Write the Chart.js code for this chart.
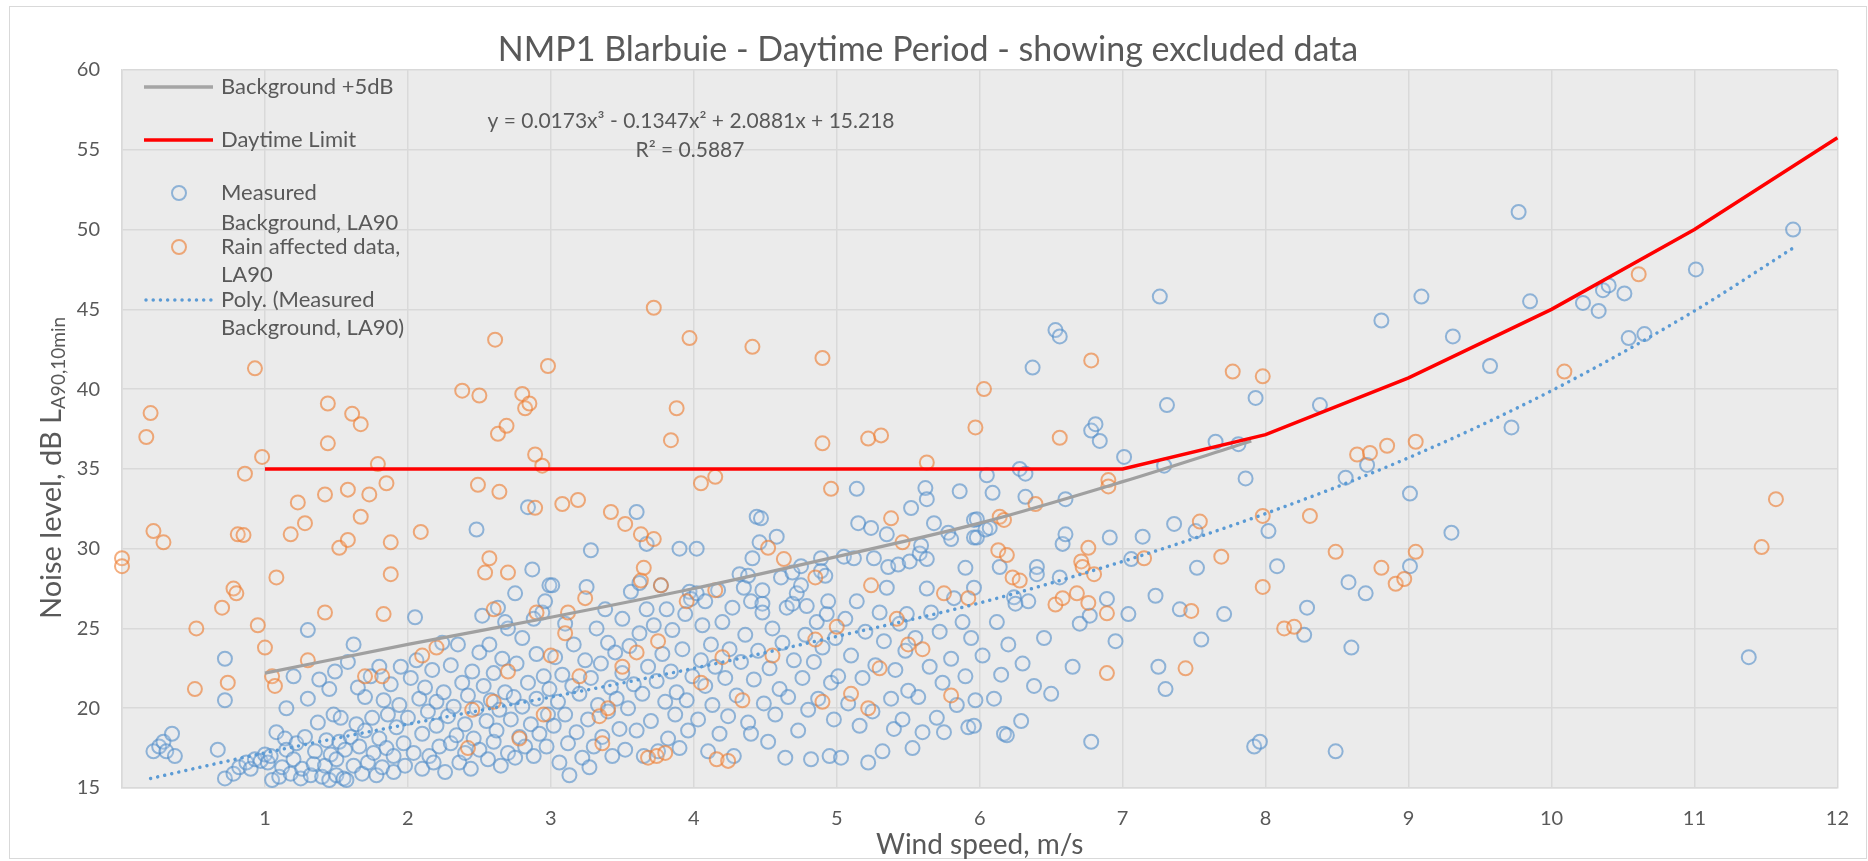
<!DOCTYPE html>
<html>
<head>
<meta charset="utf-8">
<script src="https://cdn.jsdelivr.net/npm/chart.js@4/dist/chart.umd.min.js"></script>
<style>
html,body{margin:0;padding:0;background:#fff}
#wrap{width:1868px;height:861px}
</style>
</head>
<body>
<div id="wrap"><canvas id="chart" width="1868" height="861"></canvas></div>
<script>
// Measured background, LA90 (wind speed m/s, dB)
const measured=[
[0.22,17.3],[0.26,17.6],[0.29,17.9],[0.31,17.3],[0.35,18.4],[0.37,17.0],[0.67,17.4],[0.72,15.6],[0.78,15.9],[0.82,16.3],[0.72,23.1],[0.72,20.5],[0.87,16.6],[0.9,16.2],[0.93,16.8],[0.97,16.7],
[1.0,17.1],[1.02,16.6],[1.04,17.0],[1.05,15.5],[1.08,18.5],[1.1,15.7],[1.12,16.3],[1.14,18.1],[1.15,20.0],[1.15,17.4],[1.18,15.9],[1.2,16.8],[1.22,17.8],[1.25,15.6],[1.26,16.2],[1.28,18.2],[1.3,20.6],[1.3,24.9],[1.32,15.8],[1.34,16.5],[1.35,17.3],[1.37,19.1],[1.4,15.7],[1.42,16.4],[1.43,18.0],[1.45,15.5],[1.46,17.1],[1.48,19.6],[1.49,22.3],[1.5,15.8],[1.5,16.8],[1.52,17.9],[1.53,19.4],[1.55,15.6],[1.56,17.4],[1.57,15.5],[1.45,21.2],[1.38,21.8],[1.2,22.0],
[1.6,18.2],[1.62,16.4],[1.64,19.0],[1.66,17.6],[1.68,15.9],[1.7,20.7],[1.7,18.6],[1.72,16.6],[1.74,22.0],[1.75,19.4],[1.76,17.2],[1.78,15.8],[1.8,18.1],[1.82,16.3],[1.83,20.5],[1.85,17.5],[1.86,19.6],[1.88,21.5],[1.9,17.0],[1.9,16.0],[1.92,18.8],[1.94,20.2],[1.95,22.6],[1.97,17.8],[1.98,16.4],[1.62,24.0],[1.58,22.9],[1.8,22.6],[1.65,21.3],
[2.0,19.4],[2.02,21.9],[2.04,17.2],[2.05,25.7],[2.06,23.0],[2.08,20.6],[2.1,16.2],[2.1,18.4],[2.12,21.3],[2.14,19.8],[2.15,17.0],[2.17,22.4],[2.18,16.6],[2.2,20.4],[2.2,18.9],[2.22,17.6],[2.24,24.1],[2.25,21.0],[2.26,16.0],[2.28,19.5],[2.3,22.7],[2.3,17.8],[2.32,20.1],[2.34,18.3],[2.35,24.0],[2.36,16.6],[2.38,21.6],[2.4,19.0],[2.4,17.2],[2.42,20.8],[2.44,16.2],[2.45,22.3],[2.46,18.1],[2.48,31.2],[2.48,20.0],[2.5,17.4],[2.5,23.5],
[2.52,25.8],[2.53,21.4],[2.55,19.2],[2.56,16.8],[2.57,24.0],[2.58,20.5],[2.6,17.9],[2.6,22.2],[2.62,18.6],[2.63,26.3],[2.64,19.9],[2.65,16.4],[2.66,23.1],[2.68,21.0],[2.7,17.2],[2.7,25.0],[2.72,19.3],[2.74,20.7],[2.75,16.9],[2.76,22.8],[2.78,18.2],[2.8,24.4],[2.8,20.1],[2.82,17.6],[2.84,32.6],[2.84,21.6],[2.86,19.0],[2.87,28.7],[2.88,17.0],[2.9,23.4],[2.9,20.6],[2.92,18.4],[2.94,26.0],[2.95,22.0],[2.96,26.7],[2.97,17.6],[2.98,19.6],[2.99,27.7],[2.99,21.2],[2.88,25.6],[2.75,27.2],[2.68,25.4],
[3.01,27.7],[3.02,18.9],[3.03,23.2],[3.05,20.4],[3.06,16.6],[3.08,22.1],[3.1,25.3],[3.1,19.6],[3.12,17.8],[3.13,15.8],[3.15,21.4],[3.16,24.0],[3.18,18.5],[3.2,20.9],[3.22,16.9],[3.24,23.0],[3.25,27.6],[3.26,19.3],[3.27,16.3],[3.28,29.9],[3.28,21.9],[3.3,17.6],[3.32,25.0],[3.33,20.2],[3.35,22.8],[3.36,18.2],[3.38,26.2],[3.4,19.8],[3.4,24.1],[3.42,21.3],[3.43,17.0],[3.45,23.5],[3.46,20.6],[3.48,18.7],[3.5,25.6],[3.5,22.2],
[3.52,17.4],[3.54,20.0],[3.55,23.9],[3.56,27.3],[3.58,21.5],[3.6,32.3],[3.6,18.6],[3.62,27.85],[3.62,24.7],[3.64,20.9],[3.65,17.0],[3.67,30.3],[3.67,26.2],[3.68,22.6],[3.7,19.2],[3.72,25.2],[3.74,21.7],[3.75,17.3],[3.77,27.7],[3.78,23.4],[3.8,20.4],[3.81,26.2],[3.82,18.1],[3.84,22.3],[3.85,24.9],[3.87,19.6],[3.88,21.0],[3.9,30.0],[3.9,17.5],[3.92,23.7],[3.94,25.9],[3.95,20.5],[3.97,27.3],[3.98,26.85],[3.99,22.0],[3.96,18.6],
[4.02,30.0],[4.02,27.2],[4.03,19.3],[4.05,23.0],[4.06,25.2],[4.08,26.7],[4.08,21.4],[4.1,17.3],[4.12,24.0],[4.13,20.2],[4.15,22.6],[4.17,27.4],[4.18,18.4],[4.2,25.4],[4.22,21.9],[4.24,19.5],[4.25,23.7],[4.27,26.3],[4.28,17.0],[4.3,20.8],[4.32,28.4],[4.33,22.9],[4.35,27.55],[4.36,24.6],[4.38,28.3],[4.38,19.1],[4.4,26.7],[4.4,18.4],[4.41,29.4],[4.42,21.8],[4.44,32.0],[4.45,23.6],[4.46,30.4],[4.47,31.9],[4.48,26.55],[4.48,27.4],[4.49,20.3],[4.48,26.0],
[4.52,17.9],[4.53,22.5],[4.55,25.0],[4.57,19.6],[4.58,30.75],[4.6,21.2],[4.61,28.2],[4.62,24.1],[4.64,16.9],[4.65,26.3],[4.66,20.7],[4.69,28.5],[4.69,26.55],[4.7,23.0],[4.72,27.2],[4.73,18.6],[4.75,28.9],[4.75,27.7],[4.76,21.9],[4.78,24.6],[4.79,26.4],[4.8,19.9],[4.82,16.8],[4.84,22.9],[4.86,25.4],[4.87,20.6],[4.89,29.4],[4.89,28.6],[4.9,23.8],[4.92,28.3],[4.93,25.9],[4.94,26.7],[4.95,17.0],[4.96,21.6],[4.98,19.3],[4.99,24.4],
[5.01,22.0],[5.03,16.9],[5.05,29.5],[5.06,25.6],[5.08,20.3],[5.1,23.3],[5.12,29.4],[5.14,33.75],[5.14,26.7],[5.15,31.6],[5.16,18.9],[5.18,21.9],[5.2,24.8],[5.22,16.6],[5.24,31.3],[5.25,19.8],[5.26,29.4],[5.27,22.7],[5.3,26.0],[5.32,17.3],[5.33,24.2],[5.35,30.9],[5.35,27.55],[5.36,28.85],[5.38,20.6],[5.4,18.7],[5.41,22.4],[5.43,29.0],[5.44,25.3],[5.46,19.3],[5.48,23.6],[5.49,25.9],[5.51,29.2],[5.52,32.55],[5.5,21.1],
[5.53,17.5],[5.55,24.4],[5.57,20.7],[5.58,29.7],[5.59,30.2],[5.6,18.5],[5.62,33.8],[5.63,33.1],[5.63,29.35],[5.63,27.5],[5.65,22.6],[5.66,26.0],[5.68,31.6],[5.7,19.4],[5.72,24.8],[5.74,21.6],[5.75,18.5],[5.78,31.0],[5.8,30.6],[5.8,23.1],[5.82,26.9],[5.84,20.2],[5.86,33.6],[5.88,25.4],[5.9,28.8],[5.9,22.0],[5.92,18.8],[5.94,24.4],[5.96,31.8],[5.96,30.7],[5.96,27.55],[5.96,18.9],[5.98,31.85],[5.98,30.7],[5.97,20.5],
[6.02,23.3],[6.04,31.2],[6.05,34.6],[6.07,31.3],[6.09,33.5],[6.1,20.6],[6.12,25.4],[6.14,28.85],[6.15,22.1],[6.17,18.4],[6.19,18.3],[6.2,24.0],[6.24,26.95],[6.25,26.55],[6.28,35.0],[6.29,19.2],[6.3,22.8],[6.32,34.7],[6.32,33.25],[6.34,26.7],[6.37,41.35],[6.38,21.4],[6.4,28.85],[6.4,28.4],[6.45,24.4],[6.5,20.9],[6.53,43.7],[6.56,43.3],[6.56,28.2],[6.58,30.3],[6.6,30.9],[6.6,33.1],[6.65,22.6],[6.7,25.3],[6.77,25.8],[6.78,17.9],[6.78,37.4],[6.81,37.8],[6.84,36.75],[6.89,26.85],[6.91,30.7],[6.95,24.2],
[7.01,35.75],[7.04,25.9],[7.06,29.35],[7.14,30.75],[7.23,27.05],[7.25,22.6],[7.26,45.8],[7.29,35.2],[7.3,21.2],[7.31,39.0],[7.36,31.55],[7.4,26.2],[7.51,31.1],[7.52,28.8],[7.55,24.3],[7.65,36.7],[7.71,25.9],[7.81,36.55],[7.86,34.4],[7.92,17.6],[7.93,39.45],[7.96,17.9],
[8.02,31.1],[8.08,28.9],[8.27,24.6],[8.29,26.3],[8.38,39.0],[8.49,17.3],[8.56,34.45],[8.58,27.9],[8.6,23.8],[8.7,27.2],[8.71,35.25],[8.81,44.3],[9.01,33.45],[9.01,28.9],[9.09,45.8],[9.31,43.3],[9.3,31.0],[9.57,41.45],[9.72,37.6],[9.77,51.1],[9.85,45.5],[10.22,45.4],[10.33,44.9],[10.36,46.2],[10.4,46.5],[10.51,46.0],[10.54,43.2],[10.65,43.45],[11.01,47.5],[11.69,50.0],[11.38,23.2]
];

// Rain affected data, LA90
const rain=[
[0.0,29.4],[0.0,28.9],[0.17,37.0],[0.2,38.5],[0.22,31.1],[0.29,30.4],[0.52,25.0],[0.51,21.2],[0.7,26.3],[0.74,21.6],[0.78,27.5],[0.8,27.2],[0.81,30.9],[0.85,30.85],[0.86,34.7],[0.93,41.3],[0.98,35.75],[0.95,25.2],[1.0,23.8],[1.05,22.0],[1.07,21.4],[1.08,28.2],
[1.18,30.9],[1.23,32.9],[1.28,31.6],[1.3,23.0],[1.42,33.4],[1.42,26.0],[1.44,36.6],[1.44,39.1],[1.52,30.05],[1.58,30.55],[1.58,33.7],[1.61,38.45],[1.67,37.8],[1.67,32.0],[1.7,22.0],[1.73,33.4],[1.79,35.3],[1.83,25.9],[1.85,34.1],[1.88,30.4],[1.88,28.4],[1.82,22.0],
[2.09,31.05],[2.1,23.3],[2.2,23.8],[2.38,39.9],[2.42,17.5],[2.45,19.9],[2.49,34.0],[2.5,39.6],[2.54,28.5],[2.57,29.4],[2.6,26.2],[2.6,20.4],[2.61,43.1],[2.63,37.2],[2.64,33.56],[2.69,37.7],[2.7,28.5],[2.7,22.3],[2.78,18.1],[2.8,39.7],[2.82,38.8],[2.85,39.1],[2.89,35.9],[2.89,32.56],[2.9,26.0],[2.94,35.2],[2.95,19.6],[2.98,41.45],[3.0,23.3],
[3.08,32.8],[3.1,24.7],[3.12,26.0],[3.19,33.05],[3.2,22.0],[3.24,26.9],[3.34,19.5],[3.36,17.8],[3.4,20.0],[3.42,32.3],[3.5,22.6],[3.52,31.55],[3.6,23.5],[3.63,30.9],[3.63,28.0],[3.65,28.8],[3.68,16.9],[3.72,30.6],[3.72,45.1],[3.74,17.0],[3.75,24.2],[3.77,27.7],[3.8,17.2],[3.84,36.8],[3.88,38.8],[3.95,26.7],[3.97,43.2],
[4.05,34.1],[4.05,21.6],[4.15,34.5],[4.15,27.4],[4.16,16.8],[4.2,23.2],[4.24,16.7],[4.34,20.5],[4.41,42.65],[4.52,30.05],[4.55,23.3],[4.63,29.35],[4.85,28.2],[4.85,24.3],[4.9,41.95],[4.9,36.6],[4.9,20.4],[4.96,33.75],[5.0,25.1],
[5.1,20.9],[5.22,36.9],[5.22,20.0],[5.24,27.7],[5.3,22.5],[5.31,37.1],[5.38,31.9],[5.42,25.6],[5.46,30.4],[5.5,24.0],[5.63,35.4],[5.6,23.7],[5.75,27.2],[5.8,20.8],[5.92,26.9],[5.97,37.6],[6.03,40.0],
[6.13,29.9],[6.19,29.6],[6.14,32.0],[6.17,31.8],[6.23,28.2],[6.28,28.0],[6.39,32.8],[6.53,26.5],[6.56,36.95],[6.58,26.9],[6.68,27.2],[6.71,29.2],[6.72,28.85],[6.76,26.6],[6.76,30.05],[6.78,41.8],[6.8,28.4],[6.89,25.95],[6.89,22.2],[6.9,34.3],[6.9,33.9],
[7.15,29.4],[7.44,22.5],[7.48,26.1],[7.54,31.7],[7.69,29.5],[7.77,41.1],[7.98,40.8],[7.98,27.6],[7.98,32.05],[8.13,25.0],[8.2,25.1],[8.31,32.05],[8.49,29.8],[8.64,35.9],[8.73,36.0],[8.81,28.8],[8.85,36.45],[8.91,27.8],[8.97,28.1],[9.05,36.7],[9.05,29.8],
[10.09,41.1],[10.61,47.2],[11.47,30.1],[11.57,33.1]
];

// Daytime limit
const limitX=[1,2,3,4,5,6,7,8,9,10,11,12];
const limitY=[35,35,35,35,35,35,35,37.15,40.7,45.0,50.0,55.75];

// Background +5dB
const plus5X=[1,2,3,4,5,6,7,7.9];
const plus5Y=[22.2,24.0,25.7,27.5,29.5,31.6,34.2,36.75];

// Poly. trend of measured background
const polyX=[0.2,1,2,3,4,5,6,7,8,9,10,11,11.7];
const polyY=[15.6,17.2,19.0,20.7,22.5,24.5,26.6,29.2,32.2,35.7,39.9,44.9,48.9];

const xMin=0,xMax=12,xStep=1;
const yMin=15,yMax=60,yStep=5;

const FONT="Lato";
const TXT="#595959";

function pts(xs,ys){return xs.map((x,i)=>({x:x,y:ys[i]}));}
function pairs(a){return a.map(p=>({x:p[0],y:p[1]}));}

const BLUE="#5b9bd5";
const BLUE_RING="rgba(80,140,200,0.6)";
const ORANGE_RING="rgba(237,125,49,0.62)";

// background, plot fill, outer frame
const backPlugin={
id:"back",
beforeDraw(chart){
const c=chart.ctx,a=chart.chartArea;
c.save();
c.fillStyle="#fff";
c.fillRect(0,0,chart.width,chart.height);
c.strokeStyle="#d9d9d9";
c.lineWidth=1;
c.strokeRect(9.5,6.5,1857,852);
c.fillStyle="#ebebeb";
c.fillRect(a.left,a.top,a.right-a.left,a.bottom-a.top);
c.restore();
}
};

// titles, equation and legend
const textPlugin={
id:"texts",
afterDraw(chart){
const c=chart.ctx,a=chart.chartArea;
c.save();
c.fillStyle=TXT;
c.textBaseline="middle";
c.textAlign="center";
c.font="34px "+FONT;
c.fillText("NMP1 Blarbuie - Daytime Period - showing excluded data",928,50);

c.font="28px "+FONT;
c.fillText("Wind speed, m/s",(a.left+a.right)/2,845);

// y title with subscript
c.save();
c.translate(52,468);
c.rotate(-Math.PI/2);
const main="Noise level, dB L",sub="A90,10min";
c.font="29px "+FONT;
const w1=c.measureText(main).width;
c.font="19px "+FONT;
const w2=c.measureText(sub).width;
let x0=-(w1+w2)/2;
c.textAlign="left";
c.font="29px "+FONT;
c.fillText(main,x0,0);
c.font="19px "+FONT;
c.fillText(sub,x0+w1,7);
c.restore();

// trend equation
c.textAlign="center";
c.font="21px "+FONT;
c.fillText("y = 0.0173x\u00b3 - 0.1347x\u00b2 + 2.0881x + 15.218",691,121);
c.fillText("R\u00b2 = 0.5887",690,150);

// legend
c.textAlign="left";
c.font="22px "+FONT;
c.lineCap="butt";
c.strokeStyle="#a5a5a5";c.lineWidth=3.5;
c.beginPath();c.moveTo(144,87);c.lineTo(213,87);c.stroke();
c.fillText("Background +5dB",221,87);
c.strokeStyle="#ff0000";c.lineWidth=3.5;
c.beginPath();c.moveTo(144,140);c.lineTo(213,140);c.stroke();
c.fillText("Daytime Limit",221,140);
c.lineWidth=2;
c.strokeStyle=BLUE_RING;
c.beginPath();c.arc(179,193,7,0,Math.PI*2);c.stroke();
c.fillText("Measured",221,193);
c.fillText("Background, LA90",221,223);
c.strokeStyle=ORANGE_RING;
c.beginPath();c.arc(179,247,7,0,Math.PI*2);c.stroke();
c.fillText("Rain affected data,",221,247);
c.fillText("LA90",221,275);
c.strokeStyle=BLUE;c.lineWidth=3.5;c.lineCap="round";
c.setLineDash([0.01,7.2]);
c.beginPath();c.moveTo(146,300);c.lineTo(211,300);c.stroke();
c.setLineDash([]);
c.fillText("Poly. (Measured",221,300);
c.fillText("Background, LA90)",221,328);
c.restore();
}
};

new Chart(document.getElementById("chart"),{
type:"scatter",
data:{
datasets:[
{label:"Poly. (Measured Background, LA90)",data:pts(polyX,polyY),showLine:true,borderColor:BLUE,borderWidth:3.5,borderDash:[0.01,7.2],borderCapStyle:"round",pointRadius:0,cubicInterpolationMode:"monotone",order:0},
{label:"Daytime Limit",data:pts(limitX,limitY),showLine:true,borderColor:"#ff0000",borderWidth:3.5,pointRadius:0,tension:0,order:1},
{label:"Background +5dB",data:pts(plus5X,plus5Y),showLine:true,borderColor:"#a0a0a0",borderWidth:3.2,pointRadius:0,cubicInterpolationMode:"monotone",order:2},
{label:"Rain affected data, LA90",data:pairs(rain),pointRadius:7,pointBorderWidth:2,borderColor:ORANGE_RING,backgroundColor:"rgba(255,240,225,0.12)",order:3},
{label:"Measured Background, LA90",data:pairs(measured),pointRadius:7,pointBorderWidth:2,borderColor:BLUE_RING,backgroundColor:"rgba(225,238,250,0.15)",order:4}
]
},
options:{
responsive:false,
animation:false,
devicePixelRatio:1,
clip:false,
layout:{padding:{left:0,top:70,right:25,bottom:0}},
plugins:{legend:{display:false},tooltip:{enabled:false},title:{display:false}},
scales:{
x:{
type:"linear",min:xMin,max:xMax,
afterFit(s){s.height=73;},
ticks:{stepSize:xStep,padding:19,color:TXT,font:{family:FONT,size:20},callback:v=>v===0?"":v},
grid:{color:"#d9d9d9",lineWidth:1.5,drawTicks:false},
border:{color:"#d9d9d9",width:1.5}
},
y:{
type:"linear",min:yMin,max:yMax,
afterFit(s){s.width=122;},
ticks:{stepSize:yStep,padding:22,color:TXT,font:{family:FONT,size:20}},
grid:{color:"#d9d9d9",lineWidth:1.5,drawTicks:false},
border:{color:"#d9d9d9",width:1.5}
}
}
},
plugins:[backPlugin,textPlugin]
});
</script>
</body>
</html>
